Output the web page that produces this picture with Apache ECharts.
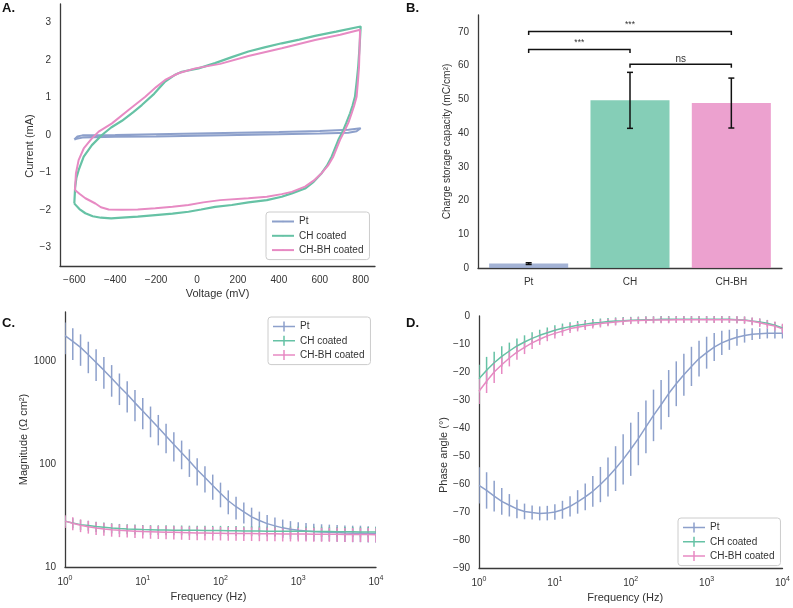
<!DOCTYPE html>
<html><head><meta charset="utf-8">
<script src="https://cdn.jsdelivr.net/npm/echarts@6/dist/echarts.min.js"></script>
<style>html,body{margin:0;padding:0;background:#fff}#c{width:793px;height:608px}</style>
</head><body><div id="c"></div>
<script>
// ---------- Panel A: cyclic voltammetry (Voltage mV, Current mA) ----------
const cvPt = [[-600,-0.12],[-585,-0.04],[-560,-0.01],[-400,0.0],[-200,0.02],[0,0.04],[200,0.06],[400,0.08],[600,0.11],[740,0.14],[800,0.18],
  [780,0.10],[740,0.06],[600,0.04],[400,0.02],[200,0.0],[0,-0.02],[-200,-0.04],[-400,-0.05],[-560,-0.07],[-590,-0.10],[-600,-0.12]];
const cvCH = [[-600,-1.83],[-596,-1.40],[-590,-1.15],[-579,-0.94],[-554,-0.58],[-514,-0.27],[-465,0.0],[-420,0.20],[-367,0.38],[-310,0.62],[-270,0.80],[-210,1.10],[-156,1.43],[-110,1.60],[-74,1.69],[7,1.78],[88,1.92],[170,2.08],[251,2.23],[330,2.34],[414,2.45],[500,2.55],[577,2.65],[680,2.76],[800,2.90],
  [795,2.40],[788,1.83],[780,1.40],[772,1.02],[760,0.78],[748,0.58],[730,0.33],[715,0.13],[691,-0.13],[658,-0.58],[635,-0.82],[609,-1.02],[570,-1.25],[528,-1.43],[463,-1.56],[414,-1.65],[341,-1.74],[251,-1.80],[170,-1.87],[88,-1.92],[20,-1.99],[-42,-2.05],[-120,-2.10],[-204,-2.14],[-290,-2.18],[-367,-2.21],[-420,-2.23],[-470,-2.21],[-510,-2.17],[-546,-2.09],[-575,-1.98],[-595,-1.86],[-600,-1.83]];
const cvCHBH = [[-597,-1.47],[-594,-1.20],[-592,-1.02],[-579,-0.67],[-554,-0.36],[-514,-0.09],[-481,0.09],[-416,0.31],[-335,0.67],[-253,1.02],[-200,1.28],[-156,1.47],[-91,1.65],[-9,1.78],[113,1.90],[251,2.11],[414,2.32],[577,2.54],[700,2.68],[797,2.81],
  [795,2.40],[792,1.83],[786,1.40],[780,1.02],[768,0.78],[756,0.58],[740,0.33],[723,0.13],[699,-0.13],[666,-0.58],[640,-0.82],[609,-1.02],[570,-1.22],[528,-1.38],[463,-1.52],[414,-1.58],[341,-1.65],[251,-1.69],[113,-1.74],[30,-1.80],[-42,-1.87],[-120,-1.92],[-204,-1.96],[-290,-1.99],[-367,-2.00],[-432,-1.99],[-470,-1.93],[-497,-1.83],[-546,-1.69],[-575,-1.57],[-597,-1.47]];

// ---------- Panel B: charge storage capacity ----------
const cscCats = ['Pt', 'CH', 'CH-BH'];
const cscMean = [1.3, 49.7, 48.9];
const cscErr = [0.25, 8.3, 7.4];
const sigFrom = [0, 0, 1];
const sigTo = [2, 1, 2];
const sigY = [70.1, 64.8, 60.4];
const sigLabel = ['***', '***', 'ns'];

// ---------- Panels C and D: impedance (Bode) ----------
const freq = [1,1.259,1.585,1.995,2.512,3.162,3.981,5.012,6.310,7.943,10,12.59,15.85,19.95,25.12,31.62,39.81,50.12,63.10,79.43,100,125.9,158.5,199.5,251.2,316.2,398.1,501.2,631.0,794.3,1000,1259,1585,1995,2512,3162,3981,5012,6310,7943,10000];
const magPt = [1767,1556,1360,1153,971,817,683,566,477,393,328,272,226,187,155,129,107,88,74,62,52,44,38.5,34.4,30.7,28.3,26.4,25.1,24.0,23.3,22.8,22.4,22.1,21.9,21.8,21.6,21.4,21.3,21.3,21.1,21.0];
const magPtErr = [600,530,460,390,330,278,232,192,160,132,110,90,74,60,49,40,32,26,21,17,14,11.5,9.5,8,7,6.2,5.6,5.2,4.9,4.6,4.4,4.3,4.2,4.1,4.0,4.0,3.9,3.9,3.9,3.8,3.8];
const magCH = [27.9,26.8,25.8,25.3,24.7,24.3,23.9,23.6,23.4,23.3,23.1,23.0,22.9,22.9,22.8,22.8,22.7,22.7,22.6,22.6,22.6,22.5,22.5,22.4,22.4,22.4,22.3,22.3,22.3,22.2,22.2,22.2,22.1,22.1,22.1,22.0,22.0,22.0,21.9,21.9,21.9];
const magCHErr = [3.0,3.0,2.9,2.8,2.8,2.7,2.7,2.6,2.6,2.6,2.5,2.5,2.5,2.5,2.5,2.5,2.5,2.5,2.5,2.5,2.5,2.5,2.5,2.5,2.5,2.5,2.5,2.5,2.5,2.5,2.5,2.5,2.5,2.5,2.5,2.5,2.5,2.5,2.5,2.5,2.5];
const magCHBH = [27.9,26.6,25.4,24.6,23.9,23.4,23.0,22.7,22.5,22.3,22.1,22.0,21.9,21.8,21.7,21.6,21.5,21.4,21.4,21.3,21.3,21.2,21.2,21.1,21.1,21.0,21.0,21.0,20.9,20.9,20.9,20.9,20.8,20.8,20.8,20.8,20.7,20.7,20.7,20.7,20.6];
const magCHBHErr = [4.0,3.8,3.6,3.5,3.4,3.3,3.3,3.2,3.2,3.2,3.2,3.2,3.2,3.2,3.2,3.2,3.2,3.2,3.2,3.2,3.2,3.2,3.2,3.2,3.2,3.2,3.2,3.2,3.2,3.2,3.2,3.2,3.2,3.2,3.2,3.2,3.2,3.2,3.2,3.2,3.2];
const phPt = [-60.5,-62.3,-64.3,-66.2,-67.6,-68.9,-69.8,-70.2,-70.5,-70.4,-70.0,-69.2,-68.0,-66.4,-64.6,-62.6,-60.2,-57.5,-54.5,-51.2,-47.6,-43.8,-39.6,-35.5,-31.7,-27.7,-24.2,-21.0,-18.0,-15.2,-13.1,-11.1,-9.6,-8.5,-7.6,-7.0,-6.5,-6.3,-6.2,-6.2,-6.2];
const phPtErr = [6.5,6.5,5.5,4.8,4.0,3.3,2.8,2.5,2.5,2.6,2.8,3.2,3.6,4.2,4.8,5.5,6.3,7.0,8.0,9.0,9.5,9.5,9.4,9.2,8.8,8.4,8.0,7.5,7.0,6.4,5.7,5.0,4.3,3.6,3.0,2.5,2.1,1.9,1.8,1.8,1.8];
const phCH = [-22.4,-19.4,-16.7,-14.4,-12.5,-10.7,-9.3,-8.0,-6.9,-6.0,-5.1,-4.4,-3.8,-3.3,-2.9,-2.5,-2.3,-2.0,-1.8,-1.7,-1.5,-1.4,-1.3,-1.3,-1.2,-1.2,-1.2,-1.2,-1.2,-1.2,-1.2,-1.2,-1.2,-1.2,-1.3,-1.4,-1.8,-2.1,-2.6,-3.3,-4.3];
const phCHErr = [5.0,4.8,3.9,3.6,3.0,2.7,2.4,2.2,2.0,1.9,1.8,1.7,1.6,1.5,1.5,1.4,1.4,1.3,1.3,1.3,1.2,1.2,1.2,1.2,1.2,1.2,1.2,1.2,1.2,1.2,1.2,1.2,1.2,1.2,1.2,1.2,1.2,1.2,1.2,1.2,1.2];
const phCHBH = [-26.9,-23.3,-20.0,-17.4,-15.0,-12.9,-11.2,-9.6,-8.3,-7.1,-6.2,-5.4,-4.5,-4.0,-3.5,-3.1,-2.7,-2.4,-2.1,-1.9,-1.7,-1.6,-1.5,-1.4,-1.4,-1.4,-1.3,-1.3,-1.3,-1.3,-1.3,-1.3,-1.3,-1.3,-1.4,-1.5,-1.9,-2.4,-3.0,-3.6,-4.6];
const phCHBHErr = [4.5,4.2,3.9,3.3,3.0,2.7,2.4,2.2,2.0,1.9,1.8,1.7,1.6,1.5,1.5,1.4,1.4,1.3,1.3,1.3,1.2,1.2,1.2,1.2,1.2,1.2,1.2,1.2,1.2,1.2,1.2,1.2,1.2,1.2,1.3,1.3,1.4,1.5,1.5,1.6,1.8];

// ---------- styling ----------
const cPt = '#8da0cb', cCH = '#66c2a5', cBH = '#e78ac3';
const barColors = [cPt, cCH, cBH];
const FONT = 'Liberation Sans';
const TXT = '#333';
const PLUS = 'path://M0,4.25h22v1.5h-22z M10.25,0h1.5v10h-1.5z';
const minus = v => String(v).replace('-', '\u2212');

const axisLine = {show: true, onZero: false, lineStyle: {color: '#3a3a3a', width: 1.3}};
function baseAxis(extra) {
  return Object.assign({
    axisLine: axisLine, axisTick: {show: false}, splitLine: {show: false},
    nameLocation: 'middle',
    nameTextStyle: {fontFamily: FONT, fontSize: 11, color: TXT},
    axisLabel: {fontFamily: FONT, fontSize: 10, color: TXT, margin: 9}
  }, extra);
}
const logXLabel = {
  fontFamily: FONT, color: TXT, margin: 8,
  formatter: v => '{b|10}{s|' + Math.round(Math.log10(v)) + '}',
  rich: {b: {fontSize: 10, fontFamily: FONT, color: TXT}, s: {fontSize: 7, fontFamily: FONT, color: TXT, padding: [0, 0, 8, 0]}}
};

function lineSeries(name, color, ai, pts, w) {
  return {type: 'line', name, xAxisIndex: ai, yAxisIndex: ai, data: pts, showSymbol: false, symbol: 'none',
    lineStyle: {color, width: w}, itemStyle: {color}, animation: false, z: 3};
}
function errSeries(name, color, ai, xs, ys, es) {
  return {type: 'custom', name, xAxisIndex: ai, yAxisIndex: ai, itemStyle: {color}, clip: true, silent: true,
    data: xs.map((x, i) => [x, ys[i] - es[i], ys[i] + es[i]]),
    encode: {x: 0, y: [1, 2]},
    renderItem(params, api) {
      const p1 = api.coord([api.value(0), api.value(1)]);
      const p2 = api.coord([api.value(0), api.value(2)]);
      return {type: 'line', shape: {x1: p1[0], y1: p1[1], x2: p2[0], y2: p2[1]}, style: {stroke: color, lineWidth: 1.5}};
    }, z: 2, animation: false};
}
const pair = (xs, ys) => xs.map((x, i) => [x, ys[i]]);

const legendBase = {
  orient: 'vertical', itemWidth: 22, itemHeight: 10, itemGap: 3.3, padding: [4, 6, 4, 5],
  borderColor: '#cccccc', borderWidth: 1, borderRadius: 3, backgroundColor: 'rgba(255,255,255,0.8)',
  textStyle: {fontFamily: FONT, fontSize: 10, color: TXT, lineHeight: 11},
  itemStyle: {borderWidth: 0}, selectedMode: false
};

const chart = echarts.init(document.getElementById('c'), null, {renderer: 'canvas'});
chart.setOption({
  animation: false,
  textStyle: {fontFamily: FONT},
  graphic: [
    {type: 'text', left: 2, top: 2, style: {text: 'A.', font: 'bold 13px "Liberation Sans"', fill: '#111'}},
    {type: 'text', left: 406, top: 2, style: {text: 'B.', font: 'bold 13px "Liberation Sans"', fill: '#111'}},
    {type: 'text', left: 2, top: 317, style: {text: 'C.', font: 'bold 13px "Liberation Sans"', fill: '#111'}},
    {type: 'text', left: 406, top: 317, style: {text: 'D.', font: 'bold 13px "Liberation Sans"', fill: '#111'}}
  ],
  grid: [
    {left: 60, top: 4, width: 315, height: 262},
    {left: 478, top: 15, width: 304, height: 253},
    {left: 65, top: 312, width: 311, height: 255},
    {left: 479, top: 316, width: 305, height: 252}
  ],
  legend: [
    Object.assign({}, legendBase, {left: 266, top: 212, itemHeight: 2, itemGap: 3.3,
      data: ['Pt', 'CH coated', 'CH-BH coated']}),
    Object.assign({}, legendBase, {left: 268, top: 317,
      data: [{name: 'Pt', icon: PLUS}, {name: 'CH coated', icon: PLUS}, {name: 'CH-BH coated', icon: PLUS}]}),
    Object.assign({}, legendBase, {left: 678, top: 518,
      data: [{name: 'Pt', icon: PLUS}, {name: 'CH coated', icon: PLUS}, {name: 'CH-BH coated', icon: PLUS}]})
  ],
  xAxis: [
    baseAxis({gridIndex: 0, type: 'value', min: -670, max: 870, splitNumber: 7, name: 'Voltage (mV)', nameGap: 22,
      axisLabel: {fontFamily: FONT, fontSize: 10, color: TXT, margin: 9, showMinLabel: false, showMaxLabel: false, formatter: minus}}),
    baseAxis({gridIndex: 1, type: 'category', data: cscCats, axisLabel: {fontFamily: FONT, fontSize: 10, color: TXT, margin: 9}}),
    baseAxis({gridIndex: 2, type: 'log', logBase: 10, min: 1, max: 10000, name: 'Frequency (Hz)', nameGap: 24,
      nameTextStyle: {fontFamily: FONT, fontSize: 11, color: TXT, padding: [0, 24, 0, 0]}, axisLabel: logXLabel}),
    baseAxis({gridIndex: 3, type: 'log', logBase: 10, min: 1, max: 10000, name: 'Frequency (Hz)', nameGap: 24,
      nameTextStyle: {fontFamily: FONT, fontSize: 11, color: TXT, padding: [0, 11, 0, 0]}, axisLabel: logXLabel})
  ],
  yAxis: [
    baseAxis({gridIndex: 0, type: 'value', min: -3.5, max: 3.5, splitNumber: 7, name: 'Current (mA)', nameGap: 25,
      nameTextStyle: {fontFamily: FONT, fontSize: 11, color: TXT, padding: [0, 22, 0, 0]},
      axisLabel: {fontFamily: FONT, fontSize: 10, color: TXT, margin: 9, showMinLabel: false, showMaxLabel: false, formatter: minus}}),
    baseAxis({gridIndex: 1, type: 'value', min: 0, max: 75, interval: 10, name: 'Charge storage capacity (mC/cm\u00b2)', nameGap: 26,
      nameTextStyle: {fontFamily: FONT, fontSize: 10.2, color: TXT},
      axisLabel: {fontFamily: FONT, fontSize: 10, color: TXT, margin: 9, showMaxLabel: false}}),
    baseAxis({gridIndex: 2, type: 'log', logBase: 10, min: 10, max: 3000, name: 'Magnitude (\u03a9 cm\u00b2)', nameGap: 36,
      axisLabel: {fontFamily: FONT, fontSize: 10, color: TXT, margin: 9, showMaxLabel: false,
        formatter: v => { const r = Math.round(v); return (r === 10 || r === 100 || r === 1000) ? String(r) : ''; }}}),
    baseAxis({gridIndex: 3, type: 'value', min: -90, max: 0, interval: 10, name: 'Phase angle (\u00b0)', nameGap: 30,
      nameTextStyle: {fontFamily: FONT, fontSize: 11, color: TXT, padding: [0, 26, 0, 0]},
      axisLabel: {fontFamily: FONT, fontSize: 10, color: TXT, margin: 9, formatter: minus}})
  ],
  series: [
    lineSeries('Pt', cPt, 0, cvPt, 2),
    lineSeries('CH coated', cCH, 0, cvCH, 2.2),
    lineSeries('CH-BH coated', cBH, 0, cvCHBH, 2),
    {type: 'bar', name: 'CSC', xAxisIndex: 1, yAxisIndex: 1, barWidth: '78%',
      data: cscMean.map((v, i) => ({value: v, itemStyle: {color: barColors[i], opacity: 0.8}}))},
    {type: 'custom', name: 'CSC error', xAxisIndex: 1, yAxisIndex: 1, silent: true, z: 4,
      data: cscMean.map((v, i) => [i, v - cscErr[i], v + cscErr[i]]),
      encode: {x: 0, y: [1, 2]},
      renderItem(params, api) {
        const lo = api.coord([api.value(0), api.value(1)]);
        const hi = api.coord([api.value(0), api.value(2)]);
        const cw = 3;
        const st = {stroke: '#111', lineWidth: 1.5};
        return {type: 'group', children: [
          {type: 'line', shape: {x1: lo[0], y1: lo[1], x2: hi[0], y2: hi[1]}, style: st},
          {type: 'line', shape: {x1: lo[0] - cw, y1: lo[1], x2: lo[0] + cw, y2: lo[1]}, style: st},
          {type: 'line', shape: {x1: hi[0] - cw, y1: hi[1], x2: hi[0] + cw, y2: hi[1]}, style: st}
        ]};
      }},
    {type: 'custom', name: 'significance', xAxisIndex: 1, yAxisIndex: 1, silent: true, z: 4,
      data: sigY.map((y, i) => [sigFrom[i], sigTo[i], y]),
      encode: {x: [0, 1], y: 2},
      renderItem(params, api) {
        const i = params.dataIndex;
        const a = api.coord([api.value(0), api.value(2)]);
        const b = api.coord([api.value(1), api.value(2)]);
        const drop = 3.5;
        return {type: 'group', children: [
          {type: 'polyline', shape: {points: [[a[0], a[1] + drop], [a[0], a[1]], [b[0], b[1]], [b[0], b[1] + drop]]},
            style: {stroke: '#111', lineWidth: 1.5, fill: null}},
          {type: 'text', style: {text: sigLabel[i], x: (a[0] + b[0]) / 2, y: a[1] - (sigLabel[i] === 'ns' ? 0 : 2),
            align: 'center', verticalAlign: 'bottom', fontFamily: FONT, fontSize: sigLabel[i] === 'ns' ? 10 : 8.5, fill: TXT}}
        ]};
      }},
    lineSeries('Pt', cPt, 2, pair(freq, magPt), 1.5),
    lineSeries('CH coated', cCH, 2, pair(freq, magCH), 1.5),
    lineSeries('CH-BH coated', cBH, 2, pair(freq, magCHBH), 1.5),
    errSeries('Pt', cPt, 2, freq, magPt, magPtErr),
    errSeries('CH coated', cCH, 2, freq, magCH, magCHErr),
    errSeries('CH-BH coated', cBH, 2, freq, magCHBH, magCHBHErr),
    lineSeries('Pt', cPt, 3, pair(freq, phPt), 1.5),
    lineSeries('CH coated', cCH, 3, pair(freq, phCH), 1.5),
    lineSeries('CH-BH coated', cBH, 3, pair(freq, phCHBH), 1.5),
    errSeries('Pt', cPt, 3, freq, phPt, phPtErr),
    errSeries('CH coated', cCH, 3, freq, phCH, phCHErr),
    errSeries('CH-BH coated', cBH, 3, freq, phCHBH, phCHBHErr)
  ]
});
</script></body></html>
